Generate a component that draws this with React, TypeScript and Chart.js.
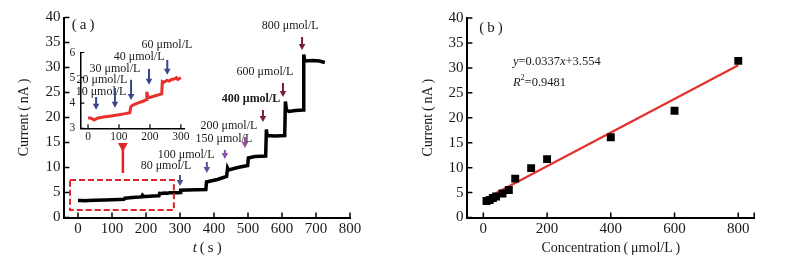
import React, { useEffect, useRef } from 'react';
import { Chart, registerables } from 'chart.js';

Chart.register(...registerables);

const FONT = '"Liberation Serif", "Times New Roman", serif';

// ---------- Panel (a): amperometric response ----------
const timeS = [0, 10, 20, 30, 50, 80, 100, 120, 135, 138, 145, 160, 180, 188, 190, 193, 200, 220, 238, 240, 245, 255, 262, 270, 278, 285, 290, 295, 300, 302, 320, 350, 376, 378, 390, 410, 437, 440, 443, 470, 499, 501, 520, 552, 554, 556, 580, 608, 610, 613, 620, 640, 662, 664, 667, 690, 710, 726];
const currentNA = [3.42, 3.40, 3.33, 3.40, 3.45, 3.50, 3.54, 3.58, 3.62, 3.85, 3.92, 4.00, 4.08, 4.14, 4.45, 4.24, 4.22, 4.30, 4.36, 4.85, 4.82, 4.90, 4.87, 4.93, 4.95, 5.00, 4.93, 4.97, 5.00, 5.45, 5.50, 5.55, 5.60, 7.10, 7.30, 7.60, 8.20, 9.90, 9.50, 10.0, 10.4, 11.9, 12.2, 12.3, 17.6, 16.4, 16.3, 16.4, 23.2, 21.6, 21.2, 21.4, 21.5, 32.6, 31.3, 31.4, 31.3, 31.0];
const mainXTicks = [0, 100, 200, 300, 400, 500, 600, 700, 800];
const mainYTicks = [0, 5, 10, 15, 20, 25, 30, 35, 40];
const insetXTicks = [0, 100, 200, 300];
const insetYTicks = [3, 4, 5, 6];
const insetMaxT = 300;

// ---------- Panel (b): calibration ----------
const concUM = [10, 20, 30, 40, 60, 80, 100, 150, 200, 400, 600, 800];
const peakNA = [3.3, 3.5, 3.9, 4.2, 4.8, 5.5, 7.8, 9.9, 11.7, 16.1, 21.4, 31.4];
const fitX = [5, 800];
const fitY = [3.72, 30.51];
const calXTicks = [0, 200, 400, 600, 800];
const calYTicks = [0, 5, 10, 15, 20, 25, 30, 35, 40];

const W_LEFT = 400;
const W_RIGHT = 405;
const H = 274;

function frameScales(left: number, bottom: number, h: number) {
  return {
    y: (s: any) => {
      s.width = left;
      s.paddingTop = 0;
      s.paddingBottom = 0;
    },
    x: (s: any) => {
      s.height = h - bottom;
      s.paddingLeft = 0;
      s.paddingRight = 0;
    },
  };
}

function setTicks(values: number[]) {
  return (s: any) => {
    s.ticks = values.map((v) => ({ value: v }));
  };
}

const inwardTicks = {
  id: 'inwardTicks',
  afterDraw(chart: any, _a: any, opts: any) {
    const { ctx, chartArea: ca } = chart;
    const len = opts.len ?? 5;
    const xs = chart.scales.x;
    const ys = chart.scales.y;
    ctx.save();
    ctx.strokeStyle = '#000';
    ctx.lineWidth = opts.width ?? 1.5;
    ctx.beginPath();
    const xv = xs.ticks.map((t: any) => t.value);
    if (opts.endTick) xv.push(xs.max);
    xv.forEach((v: number) => {
      const px = xs.getPixelForValue(v);
      ctx.moveTo(px, ca.bottom);
      ctx.lineTo(px, ca.bottom - len);
    });
    ys.ticks.forEach((t: any) => {
      const py = ys.getPixelForValue(t.value);
      ctx.moveTo(ca.left, py);
      ctx.lineTo(ca.left + len, py);
    });
    ctx.stroke();
    ctx.restore();
  },
};

function drawArrow(ctx: any, x: number, y1: number, y2: number, color: string, lw: number, head: number) {
  ctx.save();
  ctx.strokeStyle = color;
  ctx.fillStyle = color;
  ctx.lineWidth = lw;
  ctx.beginPath();
  ctx.moveTo(x, y1);
  ctx.lineTo(x, y2 - head * 0.8);
  ctx.stroke();
  ctx.beginPath();
  ctx.moveTo(x - head * 0.55, y2 - head);
  ctx.lineTo(x + head * 0.55, y2 - head);
  ctx.lineTo(x, y2);
  ctx.closePath();
  ctx.fill();
  ctx.restore();
}

type Note = { text: string; tx: number; ty: number; ax: number; a1: number; a2: number; color: string; bold?: boolean };

const mainNotes: Note[] = [
  { text: '80 μmol/L', tx: 259, ty: 10.3, ax: 300, a1: 8.5, a2: 6.3, color: '#4b4f94' },
  { text: '100 μmol/L', tx: 318, ty: 12.5, ax: 379, a1: 11.1, a2: 8.9, color: '#5a55a0' },
  { text: '150 μmol/L', tx: 429, ty: 15.7, ax: 432, a1: 13.5, a2: 11.7, color: '#8a55a8' },
  { text: '200 μmol/L', tx: 444, ty: 18.3, ax: 491, a1: 16.1, a2: 13.9, color: '#9a4d9e' },
  { text: '400 μmol/L', tx: 509, ty: 23.7, ax: 544, a1: 21.5, a2: 19.1, color: '#7a1c3c', bold: true },
  { text: '600 μmol/L', tx: 550, ty: 29.1, ax: 603, a1: 26.9, a2: 24.1, color: '#7a1c3c' },
  { text: '800 μmol/L', tx: 624, ty: 38.3, ax: 659, a1: 36.1, a2: 33.5, color: '#7a1c3c' },
];

const insetNotes: Note[] = [
  { text: '10 μmol/L', tx: 42, ty: 4.44, ax: 26, a1: 4.24, a2: 3.73, color: '#38468f' },
  { text: '20 μmol/L', tx: 45, ty: 4.92, ax: 87, a1: 4.6, a2: 3.81, color: '#38468f' },
  { text: '30 μmol/L', tx: 87, ty: 5.35, ax: 139, a1: 4.92, a2: 4.12, color: '#38468f' },
  { text: '40 μmol/L', tx: 165, ty: 5.83, ax: 197, a1: 5.35, a2: 4.72, color: '#38468f' },
  { text: '60 μmol/L', tx: 255, ty: 6.31, ax: 256, a1: 5.71, a2: 5.12, color: '#38468f' },
];

const mainDecor = {
  id: 'mainDecor',
  afterDraw(chart: any) {
    const { ctx, chartArea: ca } = chart;
    const xs = chart.scales.x;
    const ys = chart.scales.y;
    const X = (v: number) => xs.getPixelForValue(v);
    const Y = (v: number) => ys.getPixelForValue(v);
    ctx.save();
    ctx.textAlign = 'center';
    ctx.textBaseline = 'middle';
    mainNotes.forEach((n) => {
      ctx.font = `${n.bold ? 'bold ' : ''}12px ${FONT}`;
      ctx.fillStyle = '#1a1a1a';
      ctx.fillText(n.text, X(n.tx), Y(n.ty));
      drawArrow(ctx, X(n.ax), Y(n.a1), Y(n.a2), n.color, 2, 6);
    });
    // (a)
    ctx.font = `15px ${FONT}`;
    ctx.fillStyle = '#1a1a1a';
    ctx.fillText('(\u2009a\u2009)', X(15), Y(38.5));
    // dashed zoom box
    ctx.strokeStyle = '#e0262a';
    ctx.lineWidth = 2;
    ctx.setLineDash([6, 3]);
    const x0 = X(-23.5), x1 = X(282), y0 = Y(7.5), y1 = Y(1.5);
    ctx.strokeRect(x0, y0, x1 - x0, y1 - y0);
    ctx.setLineDash([]);
    drawArrow(ctx, X(132), Y(8.9), Y(13.1), '#e0262a', 2.5, 9);
    // x title with italic t
    const cx = (ca.left + ca.right) / 2;
    const cy = 248;
    ctx.textBaseline = 'middle';
    ctx.textAlign = 'left';
    ctx.font = `italic 15px ${FONT}`;
    const wT = ctx.measureText('t').width;
    ctx.font = `15px ${FONT}`;
    const rest = '\u2009(\u2009s\u2009)';
    const wR = ctx.measureText(rest).width;
    const sx = cx - (wT + wR) / 2;
    ctx.font = `italic 15px ${FONT}`;
    ctx.fillText('t', sx, cy);
    ctx.font = `15px ${FONT}`;
    ctx.fillText(rest, sx + wT, cy);
    ctx.restore();
  },
};

const insetDecor = {
  id: 'insetDecor',
  afterDraw(chart: any) {
    const { ctx } = chart;
    const xs = chart.scales.x;
    const ys = chart.scales.y;
    const X = (v: number) => xs.getPixelForValue(v);
    const Y = (v: number) => ys.getPixelForValue(v);
    ctx.save();
    ctx.textAlign = 'center';
    ctx.textBaseline = 'middle';
    insetNotes.forEach((n) => {
      ctx.font = `12px ${FONT}`;
      ctx.fillStyle = '#1a1a1a';
      ctx.fillText(n.text, X(n.tx), Y(n.ty));
      drawArrow(ctx, X(n.ax), Y(n.a1), Y(n.a2), n.color, 2, 6);
    });
    ctx.restore();
  },
};

const calDecor = {
  id: 'calDecor',
  afterDraw(chart: any) {
    const { ctx } = chart;
    const xs = chart.scales.x;
    const ys = chart.scales.y;
    const X = (v: number) => xs.getPixelForValue(v);
    const Y = (v: number) => ys.getPixelForValue(v);
    ctx.save();
    ctx.fillStyle = '#1a1a1a';
    ctx.textBaseline = 'middle';
    ctx.textAlign = 'center';
    ctx.font = `15px ${FONT}`;
    ctx.fillText('(\u2009b\u2009)', X(24), Y(38));
    ctx.textAlign = 'left';
    const parts: [string, boolean][] = [['y', true], ['=0.0337', false], ['x', true], ['+3.554', false]];
    let px = X(93);
    const py = Y(31.2);
    parts.forEach(([s, it]) => {
      ctx.font = `${it ? 'italic ' : ''}12.5px ${FONT}`;
      ctx.fillText(s, px, py);
      px += ctx.measureText(s).width;
    });
    const ry = Y(27.1);
    let rx = X(93);
    ctx.font = `italic 12.5px ${FONT}`;
    ctx.fillText('R', rx, ry);
    rx += ctx.measureText('R').width;
    ctx.font = `8px ${FONT}`;
    ctx.fillText('2', rx, ry - 4);
    rx += ctx.measureText('2').width;
    ctx.font = `12.5px ${FONT}`;
    ctx.fillText('=0.9481', rx, ry);
    ctx.restore();
  },
};

function axisCommon() {
  return {
    grid: { drawOnChartArea: false, drawTicks: false },
    border: { display: true, color: '#000', width: 2 },
  };
}

export default function App() {
  const leftRef = useRef<HTMLCanvasElement>(null);
  const insetRef = useRef<HTMLCanvasElement>(null);
  const rightRef = useRef<HTMLCanvasElement>(null);

  useEffect(() => {
    const charts: Chart[] = [];
    const mainPts = timeS.map((t, i) => ({ x: t, y: currentNA[i] }));

    // ----- main (a) -----
    {
      const left = 64.4, top = 17.5, right = 350, bottom = 217.5;
      const f = frameScales(left, bottom, H);
      charts.push(
        new Chart(leftRef.current as HTMLCanvasElement, {
          type: 'line',
          data: {
            datasets: [
              { data: mainPts, borderColor: '#000', borderWidth: 3.5, pointRadius: 0, tension: 0, fill: false },
            ],
          },
          options: {
            animation: false,
            responsive: false,
            devicePixelRatio: 1,
            layout: { padding: { left: 0, top, right: W_LEFT - right, bottom: 0 } },
            plugins: { legend: { display: false }, tooltip: { enabled: false }, inwardTicks: { len: 5, width: 1.5 } as any },
            scales: {
              x: {
                type: 'linear', min: -40, max: 800,
                afterBuildTicks: setTicks(mainXTicks), afterFit: f.x,
                ...axisCommon(),
                ticks: { font: { family: FONT, size: 15 }, color: '#1a1a1a', padding: 3, maxRotation: 0 },
              },
              y: {
                type: 'linear', min: 0, max: 40,
                afterBuildTicks: setTicks(mainYTicks), afterFit: f.y,
                ...axisCommon(),
                ticks: { font: { family: FONT, size: 15 }, color: '#1a1a1a', padding: 4 },
                title: {
                  display: true, text: 'Current\u2009(\u2009nA\u2009)', color: '#1a1a1a',
                  font: { family: FONT, size: 14 }, padding: { top: 15.6, bottom: 0 },
                },
              },
            },
          },
          plugins: [inwardTicks, mainDecor],
        } as any)
      );
    }

    // ----- inset -----
    {
      const cw = 140, ch = 110;
      const left = 25.3, top = 14.5, right = 129, bottom = 90.3;
      const f = frameScales(left, bottom, ch);
      const pts = mainPts.filter((p) => p.x <= insetMaxT);
      charts.push(
        new Chart(insetRef.current as HTMLCanvasElement, {
          type: 'line',
          data: {
            datasets: [
              { data: pts, borderColor: '#e8302c', borderWidth: 3, pointRadius: 0, tension: 0, fill: false },
            ],
          },
          options: {
            animation: false,
            responsive: false,
            devicePixelRatio: 1,
            layout: { padding: { left: 0, top, right: cw - right, bottom: 0 } },
            plugins: { legend: { display: false }, tooltip: { enabled: false }, inwardTicks: { len: 4, width: 1.2 } as any },
            scales: {
              x: {
                type: 'linear', min: -25, max: 310,
                afterBuildTicks: setTicks(insetXTicks), afterFit: f.x,
                grid: { drawOnChartArea: false, drawTicks: false },
                border: { display: true, color: '#000', width: 1.5 },
                ticks: { font: { family: FONT, size: 11.5 }, color: '#1a1a1a', padding: 2, maxRotation: 0 },
              },
              y: {
                type: 'linear', min: 3, max: 6,
                afterBuildTicks: setTicks(insetYTicks), afterFit: f.y,
                grid: { drawOnChartArea: false, drawTicks: false },
                border: { display: true, color: '#000', width: 1.5 },
                ticks: { font: { family: FONT, size: 11.5 }, color: '#1a1a1a', padding: 5 },
              },
            },
          },
          plugins: [inwardTicks, insetDecor],
        } as any)
      );
    }

    // ----- calibration (b) -----
    {
      const left = 67.4, top = 18, right = 354.2, bottom = 217.5;
      const f = frameScales(left, bottom, H);
      charts.push(
        new Chart(rightRef.current as HTMLCanvasElement, {
          type: 'scatter',
          data: {
            datasets: [
              {
                type: 'line',
                data: fitX.map((x, i) => ({ x, y: fitY[i] })),
                borderColor: '#e0322e', borderWidth: 2.2, pointRadius: 0, fill: false, order: 2,
              },
              {
                data: concUM.map((x, i) => ({ x, y: peakNA[i] })),
                pointStyle: 'rect', pointRadius: 5.6, backgroundColor: '#000', borderColor: '#000', borderWidth: 0, order: 1,
              },
            ],
          },
          options: {
            animation: false,
            responsive: false,
            devicePixelRatio: 1,
            layout: { padding: { left: 0, top, right: W_RIGHT - right, bottom: 0 } },
            plugins: { legend: { display: false }, tooltip: { enabled: false }, inwardTicks: { len: 5, width: 1.5, endTick: true } as any },
            scales: {
              x: {
                type: 'linear', min: -50, max: 850,
                afterBuildTicks: setTicks(calXTicks), afterFit: f.x,
                ...axisCommon(),
                ticks: { font: { family: FONT, size: 15 }, color: '#1a1a1a', padding: 3, maxRotation: 0 },
                title: {
                  display: true, text: 'Concentration\u2009(\u2009μmol/L\u2009)', color: '#1a1a1a',
                  font: { family: FONT, size: 14 }, padding: { top: 0, bottom: 17.6 },
                },
              },
              y: {
                type: 'linear', min: 0, max: 40,
                afterBuildTicks: setTicks(calYTicks), afterFit: f.y,
                ...axisCommon(),
                ticks: { font: { family: FONT, size: 15 }, color: '#1a1a1a', padding: 4 },
                title: {
                  display: true, text: 'Current\u2009(\u2009nA\u2009)', color: '#1a1a1a',
                  font: { family: FONT, size: 14 }, padding: { top: 19.6, bottom: 0 },
                },
              },
            },
          },
          plugins: [inwardTicks, calDecor],
        } as any)
      );
    }

    return () => charts.forEach((c) => c.destroy());
  }, []);

  return (
    <div style={{ position: 'absolute', left: 0, top: 0, width: 805, height: H, background: '#fff' }}>
      <canvas ref={leftRef} width={W_LEFT} height={H} style={{ position: 'absolute', left: 0, top: 0, width: W_LEFT, height: H }} />
      <canvas ref={insetRef} width={140} height={110} style={{ position: 'absolute', left: 55, top: 38, width: 140, height: 110 }} />
      <canvas ref={rightRef} width={W_RIGHT} height={H} style={{ position: 'absolute', left: W_LEFT, top: 0, width: W_RIGHT, height: H }} />
    </div>
  );
}
